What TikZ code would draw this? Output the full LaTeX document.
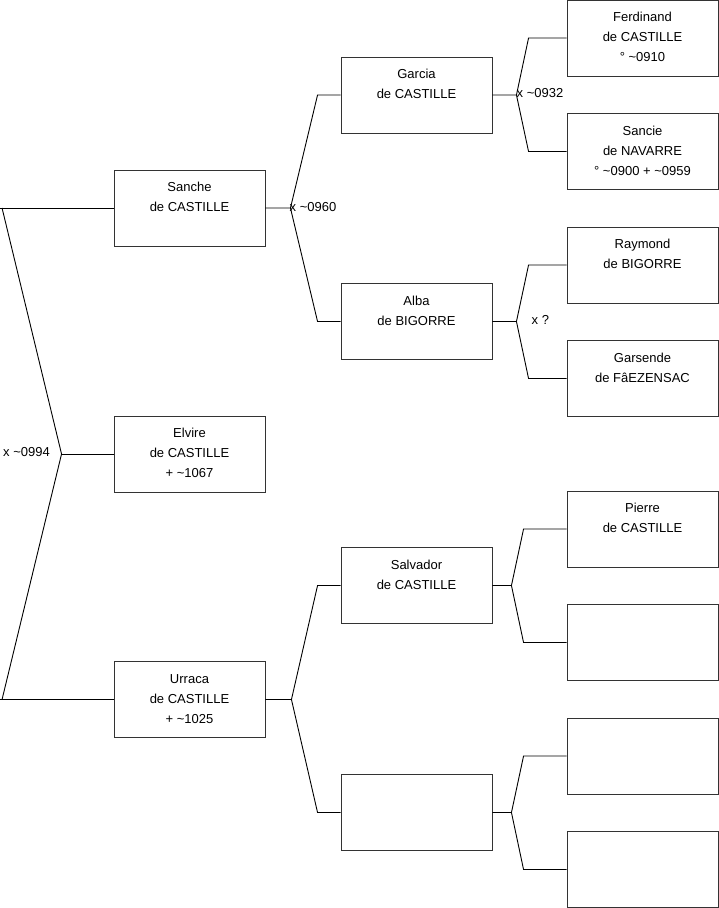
\documentclass[tikz,border=0pt]{standalone}
\usepackage{fontspec}
\setmainfont{Liberation Sans}
\usetikzlibrary{positioning}
\newcommand{\who}[1]{\parbox[c][76pt][t]{151pt}{\centering\rule{0pt}{21.5pt}#1}}

\begin{document}
\begin{tikzpicture}[
    x=1pt, y=-1pt,
    person/.style={rectangle, draw=black!80, line width=0.9pt, minimum width=151pt, minimum height=76pt, inner sep=0pt, font=\fontsize{13}{20}\selectfont},
    union/.style={anchor=west, inner sep=0pt, font=\fontsize{13}{16}\selectfont},
    link/.style={line width=0.9pt, black},
]
\useasboundingbox (0,0) rectangle (719,908);

% Generation 1
\node[person] (sanche) at (189.5,208) {\who{Sanche\\de CASTILLE}};
\node[person] (elvire) at (189.5,454) {\who{Elvire\\de CASTILLE\\+ \textasciitilde1067}};
\node[person] (urraca) at (189.5,699.5) {\who{Urraca\\de CASTILLE\\+ \textasciitilde1025}};

% Generation 2
\node[person] (garcia) at (416.5,95) {\who{Garcia\\de CASTILLE}};
\node[person] (alba) at (416.5,321.5) {\who{Alba\\de BIGORRE}};
\node[person] (salvador) at (416.5,585.5) {\who{Salvador\\de CASTILLE}};
\node[person] (anon2) at (416.5,812.5) {};

% Generation 3
\node[person] (ferdinand) at (642.5,38) {\who{Ferdinand\\de CASTILLE\\\textdegree\ \textasciitilde0910}};
\node[person] (sancie) at (642.5,151.5) {\who{Sancie\\de NAVARRE\\\textdegree\ \textasciitilde0900 + \textasciitilde0959}};
\node[person] (raymond) at (642.5,265) {\who{Raymond\\de BIGORRE}};
\node[person] (garsende) at (642.5,378.5) {\who{Garsende\\de FâEZENSAC}};
\node[person] (pierre) at (642.5,529) {\who{Pierre\\de CASTILLE}};
\node[person] (anon3a) at (642.5,642.5) {};
\node[person] (anon3b) at (642.5,756) {};
\node[person] (anon3c) at (642.5,869.5) {};

% Root fork
\coordinate (rtop) at ([xshift=-114pt]sanche.west);
\coordinate (rbot) at ([xshift=-114pt]urraca.west);
\coordinate (root) at ([xshift=-52pt]elvire.west);
\draw[link] (rtop) -- (sanche.west);
\draw[link] (rbot) -- (urraca.west);
\draw[link] ([xshift=2.5pt]rtop) -- (root) -- ([xshift=2.5pt]rbot);
\draw[link] (root) -- (elvire.west);
\node[union] (u0994) at (3,452) {x \textasciitilde0994};

% Forks of generation 1
\coordinate (fsanche) at ([xshift=25pt]sanche.east);
\draw[link] (sanche.east) -- (fsanche) -- ([xshift=-23pt]garcia.west) -- (garcia.west);
\draw[link] (fsanche) -- ([xshift=-23pt]alba.west) -- (alba.west);
\node[union] (u0960) at ([xshift=-1pt,yshift=1pt]fsanche) {x \textasciitilde0960};

\coordinate (furraca) at ([xshift=26pt]urraca.east);
\draw[link] (urraca.east) -- (furraca) -- ([xshift=-23pt]salvador.west) -- (salvador.west);
\draw[link] (furraca) -- ([xshift=-23pt]anon2.west) -- (anon2.west);

% Forks of generation 2
\coordinate (fgarcia) at ([xshift=24pt]garcia.east);
\draw[link] (garcia.east) -- (fgarcia) -- ([xshift=-38pt]ferdinand.west) -- (ferdinand.west);
\draw[link] (fgarcia) -- ([xshift=-38pt]sancie.west) -- (sancie.west);
\node[union] (u0932) at ([yshift=2pt]fgarcia) {x \textasciitilde0932};

\coordinate (falba) at ([xshift=24pt]alba.east);
\draw[link] (alba.east) -- (falba) -- ([xshift=-38pt]raymond.west) -- (raymond.west);
\draw[link] (falba) -- ([xshift=-38pt]garsende.west) -- (garsende.west);
\node[union] (uq) at ([xshift=15pt,yshift=1.5pt]falba) {x ?};

\coordinate (fsalvador) at ([xshift=19pt]salvador.east);
\draw[link] (salvador.east) -- (fsalvador) -- ([xshift=-43pt]pierre.west) -- (pierre.west);
\draw[link] (fsalvador) -- ([xshift=-43pt]anon3a.west) -- (anon3a.west);

\coordinate (fanon2) at ([xshift=19pt]anon2.east);
\draw[link] (anon2.east) -- (fanon2) -- ([xshift=-43pt]anon3b.west) -- (anon3b.west);
\draw[link] (fanon2) -- ([xshift=-43pt]anon3c.west) -- (anon3c.west);

\end{tikzpicture}
\end{document}
